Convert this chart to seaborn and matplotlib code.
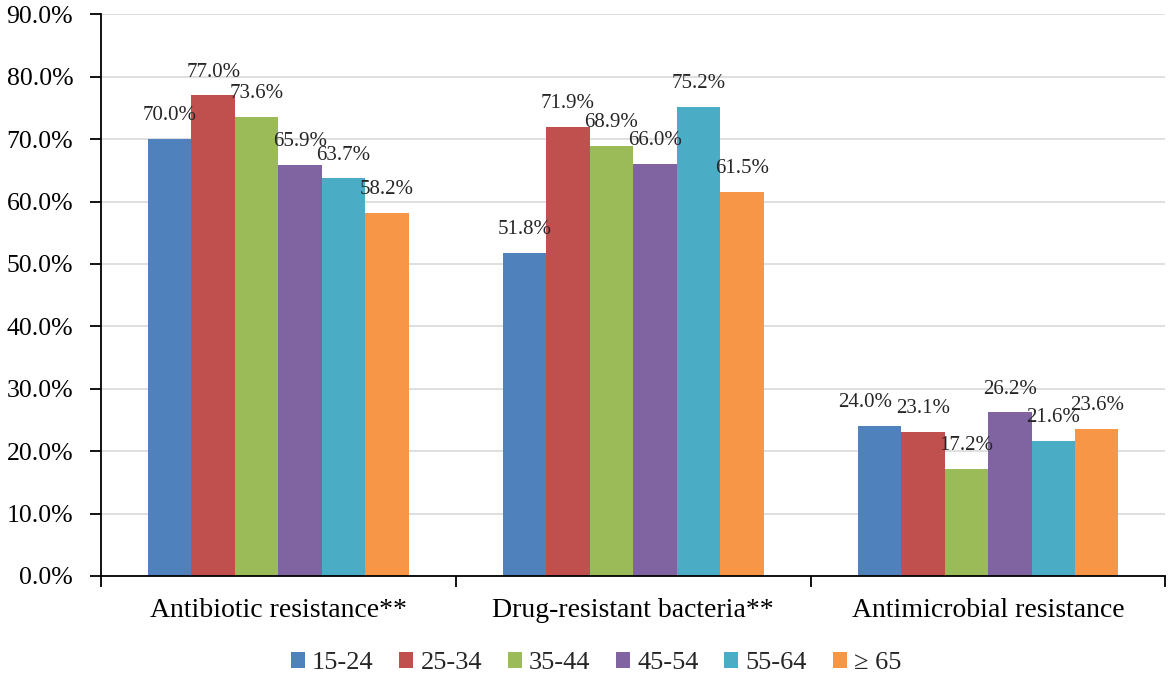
import matplotlib
matplotlib.use("Agg")
import matplotlib.pyplot as plt
import seaborn as sns
import pandas as pd
from matplotlib.ticker import FuncFormatter, FixedLocator

categories = ["Antibiotic resistance**", "Drug-resistant bacteria**", "Antimicrobial resistance"]
age_groups = ["15-24", "25-34", "35-44", "45-54", "55-64", "\u2265 65"]
values = {
    "15-24": [70.0, 51.8, 24.0],
    "25-34": [77.0, 71.9, 23.1],
    "35-44": [73.6, 68.9, 17.2],
    "45-54": [65.9, 66.0, 26.2],
    "55-64": [63.7, 75.2, 21.6],
    "\u2265 65": [58.2, 61.5, 23.6],
}
colors = ["#4F81BD", "#C0504D", "#9BBB59", "#8064A2", "#4BACC6", "#F79646"]

rows = []
for g in age_groups:
    for c, v in zip(categories, values[g]):
        rows.append({"category": c, "age": g, "value": v})
df = pd.DataFrame(rows)

sns.set_theme(style="white")
plt.rcParams["font.family"] = ["Liberation Serif", "DejaVu Serif"]

fig = plt.figure(figsize=(11.69, 6.8), dpi=100)
ax = fig.add_axes([0.0864, 0.153, 0.9106, 0.826])

sns.barplot(data=df, x="category", y="value", hue="age", order=categories,
            hue_order=age_groups, palette=colors, width=0.735, saturation=1,
            ax=ax, errorbar=None, linewidth=0)

for gi, cont in enumerate(ax.containers):
    texts = ax.bar_label(cont, labels=[f"{b.get_height():.1f}%" for b in cont],
                         padding=10, fontsize=15)
    if gi == 0:
        # Excel nudged this label left to avoid overlapping its neighbour
        x0, y0 = texts[2].xyann
        texts[2].xyann = (x0 - 10, y0)

ax.set_ylim(0, 90)
ax.set_xlim(-0.5, 2.5)
ax.set_yticks(range(0, 91, 10))
ax.yaxis.set_major_formatter(FuncFormatter(lambda v, p: f"{v:.1f}%"))
ax.yaxis.grid(True, color="#D9D9D9", linewidth=1.2)
ax.set_axisbelow(True)
ax.set_xlabel("")
ax.set_ylabel("")

for s in ["top", "right"]:
    ax.spines[s].set_visible(False)
for s in ["left", "bottom"]:
    ax.spines[s].set_color("black")
    ax.spines[s].set_linewidth(1.3)

ax.tick_params(axis="y", which="major", left=True, length=8, width=1.3,
               color="black", labelsize=18.5, pad=12, direction="out")
ax.tick_params(axis="x", which="major", bottom=False, labelsize=20, pad=10)
ax.xaxis.set_minor_locator(FixedLocator([-0.5, 0.5, 1.5, 2.5]))
ax.tick_params(axis="x", which="minor", bottom=True, length=8, width=1.3,
               color="black", direction="out")

for lab in ax.get_yticklabels() + ax.get_xticklabels():
    lab.set_color("black")

ax.legend(loc="center", bbox_to_anchor=(0.465, -0.155), ncol=6,
          frameon=False, fontsize=19, handlelength=0.53, handleheight=0.53,
          handletextpad=0.27, columnspacing=0.98)

fig.savefig("out.png", dpi=100)
